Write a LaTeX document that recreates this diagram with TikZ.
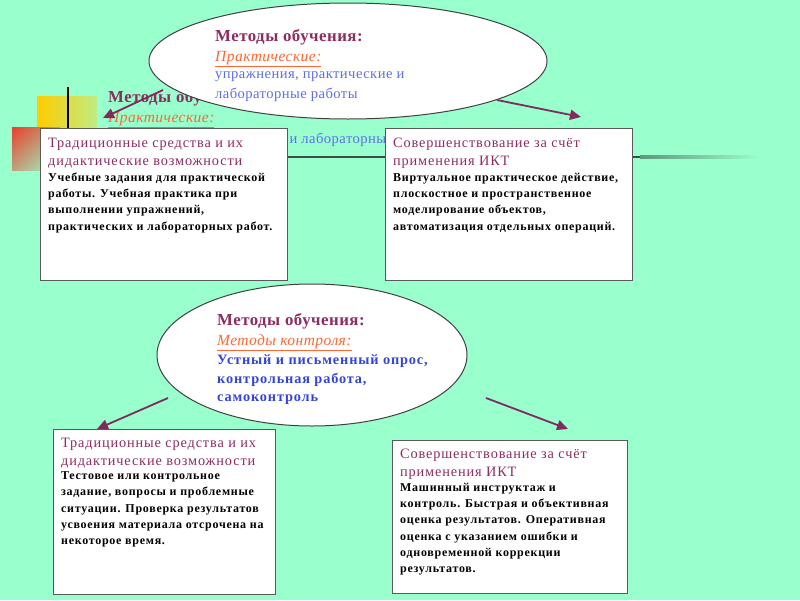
\documentclass[tikz,border=0pt]{standalone}
\usepackage{fontspec}
\setmainfont{Liberation Serif}
\newfontfamily\wideserif[LetterSpace=6]{Liberation Serif}
\newfontfamily\midserif[LetterSpace=3]{Liberation Serif}
\usetikzlibrary{arrows.meta,positioning,shapes.geometric,shadings}
\definecolor{mint}{HTML}{99FFCC}
\definecolor{plum}{HTML}{8E2C62}
\definecolor{carrot}{HTML}{FF6633}
\definecolor{softblue}{HTML}{5F6FEA}
\definecolor{deepblue}{HTML}{3344DD}
\definecolor{arrowc}{HTML}{7F2B5E}
\definecolor{gold}{HTML}{FFCC00}
\definecolor{brick}{HTML}{E8402A}
\definecolor{rule}{HTML}{3A4F45}

\begin{document}
\begin{tikzpicture}[x=1pt, y=-1pt, font=\wideserif,
  box/.style={draw=black!65, line width=0.8pt, fill=white, anchor=north west, inner sep=0pt},
  oval/.style={ellipse, draw=black!75, line width=1pt, fill=white, inner sep=0pt},
  ttl/.style={anchor=north west, inner sep=0pt, align=left, text=plum, font=\wideserif\fontsize{14.3}{18}\selectfont},
  bod/.style={anchor=north west, inner sep=0pt, align=left, font=\wideserif\bfseries\fontsize{12}{16.3}\selectfont},
  mhead/.style={anchor=north west, inner sep=0pt, text=plum, font=\midserif\bfseries\fontsize{16.8}{20}\selectfont},
  msub/.style={anchor=north west, inner sep=0pt, text=carrot, font=\midserif\itshape\fontsize{15.5}{18}\selectfont},
  mblue/.style={anchor=north west, inner sep=0pt, align=left, text=softblue, font=\midserif\fontsize{14.6}{20}\selectfont},
  arr/.style={draw=arrowc, line width=1.8pt, -{Triangle[length=11pt,width=10pt]}}]
\useasboundingbox (0,0) rectangle (800,600);
\fill[mint] (0,0) rectangle (800,600);

% copy of the heading lying behind the top oval
\node[mhead] (ghosth) at (108,90) {Методы обучения:};
\node[msub, below right=6pt and 0pt of ghosth.south west] (ghosts) {\underline{Практические:}};
\node[mblue, below right=5pt and 0pt of ghosts.south west] (ghostb) {упражнения, практические и лабораторные работы};

% corner ornament
\shade[left color=gold, right color=gold!35!mint] (37,96) rectangle (97,156);
\shade[upper left=brick, upper right=brick!50!mint, lower left=brick!50!mint, lower right=mint] (12,127) rectangle (60,170);
\draw[black, line width=1.5pt] (68,87) -- (68,169);
\draw[rule, line width=2.5pt] (40,157) -- (640,157);
\shade[left color=rule!60!mint, right color=mint] (640,155.8) rectangle (760,158.2);

% top oval
\node[oval, minimum width=398, minimum height=116] (teach) at (348,61) {};
\node[mhead] (teachh) at (215,29) {Методы обучения:};
\node[msub, below right=6pt and 0pt of teachh.south west] (teachs) {\underline{Практические:}};
\node[mblue, below right=5pt and 0pt of teachs.south west] (teachb) {упражнения, практические и\\лабораторные работы};

\coordinate (a1s) at (163,90);  \coordinate (a1e) at (103,118);
\coordinate (a2s) at (497,100); \coordinate (a2e) at (581,117);
\draw[arr] (a1s) -- (a1e);
\draw[arr] (a2s) -- (a2e);

% upper boxes
\node[box, minimum width=247, minimum height=152] (tradA) at (40,128) {};
\node[ttl] (tradAh) at ([shift={(8,10)}]tradA.north west) {Традиционные средства и их\\дидактические возможности};
\node[bod, below right=4pt and 0pt of tradAh.south west] (tradAb) {Учебные задания для практической\\работы. Учебная практика при\\выполнении упражнений,\\практических и лабораторных работ.};

\node[box, minimum width=247, minimum height=152] (ictA) at (385,128) {};
\node[ttl] (ictAh) at ([shift={(8,10)}]ictA.north west) {Совершенствование за счёт\\применения ИКТ};
\node[bod, below right=4pt and 0pt of ictAh.south west] (ictAb) {Виртуальное практическое действие,\\плоскостное и пространственное\\моделирование объектов,\\автоматизация отдельных операций.};

% lower oval
\node[oval, minimum width=310, minimum height=142] (check) at (312,355) {};
\node[mhead] (checkh) at (217,313) {Методы обучения:};
\node[msub, below right=5pt and 0pt of checkh.south west] (checks) {\underline{Методы контроля:}};
\node[anchor=north west, inner sep=0pt, align=left, text=deepblue, font=\wideserif\bfseries\fontsize{14.3}{18.5}\selectfont,
  below right=4pt and 0pt of checks.south west] (checkb) {Устный и письменный опрос,\\контрольная работа,\\самоконтроль};

\coordinate (a3s) at (168,398); \coordinate (a3e) at (97,429);
\coordinate (a4s) at (486,398); \coordinate (a4e) at (568,429);
\draw[arr] (a3s) -- (a3e);
\draw[arr] (a4s) -- (a4e);

% lower boxes
\node[box, minimum width=222, minimum height=165] (tradB) at (53,429) {};
\node[ttl] (tradBh) at ([shift={(8,9)}]tradB.north west) {Традиционные средства и их\\дидактические возможности};
\node[bod, below right=3pt and 0pt of tradBh.south west] (tradBb) {Тестовое или контрольное\\задание, вопросы и проблемные\\ситуации. Проверка результатов\\усвоения материала отсрочена на\\некоторое время.};

\node[box, minimum width=235, minimum height=153] (ictB) at (392,440) {};
\node[ttl] (ictBh) at ([shift={(8,9)}]ictB.north west) {Совершенствование за счёт\\применения ИКТ};
\node[bod, below right=3pt and 0pt of ictBh.south west] (ictBb) {Машинный инструктаж и\\контроль. Быстрая и объективная\\оценка результатов. Оперативная\\оценка с указанием ошибки и\\одновременной коррекции\\результатов.};
\end{tikzpicture}
\end{document}
